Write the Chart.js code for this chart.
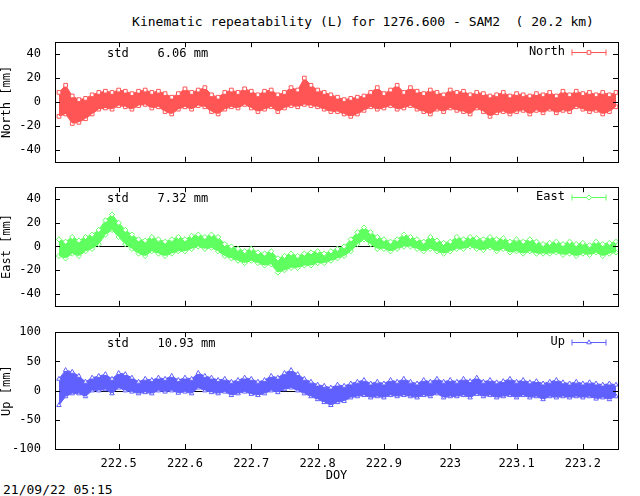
<!DOCTYPE html>
<html><head><meta charset="utf-8">
<script src="https://cdn.jsdelivr.net/npm/chart.js@4"></script>
<style>
body{margin:0;background:#fff;width:640px;height:496px;position:relative;overflow:hidden;font-family:"DejaVu Sans Mono",monospace;font-size:13px}
canvas{position:absolute;left:0}
.t{position:absolute;white-space:pre;color:#000}
</style></head><body>
<div class="t" style="left:0;width:726px;text-align:center;top:14px">Kinematic repeatability (L) for 1276.600 - SAM2  ( 20.2 km)</div>
<div class="t" style="left:3px;top:482px">21/09/22 05:15</div>
<div style="position:absolute;top:29px;left:0"><canvas id="c1"></canvas></div>
<div style="position:absolute;top:174px;left:0"><canvas id="c2"></canvas></div>
<div style="position:absolute;top:319px;left:0"><canvas id="c3"></canvas></div>
<script>
const doy=[222.41,222.42,222.43,222.44,222.45,222.46,222.47,222.48,222.49,222.50,222.51,222.52,222.53,222.54,222.55,222.56,222.57,222.58,222.59,222.60,222.61,222.62,222.63,222.64,222.65,222.66,222.67,222.68,222.69,222.70,222.71,222.72,222.73,222.74,222.75,222.76,222.77,222.78,222.79,222.80,222.81,222.82,222.83,222.84,222.85,222.86,222.87,222.88,222.89,222.90,222.91,222.92,222.93,222.94,222.95,222.96,222.97,222.98,222.99,223.00,223.01,223.02,223.03,223.04,223.05,223.06,223.07,223.08,223.09,223.10,223.11,223.12,223.13,223.14,223.15,223.16,223.17,223.18,223.19,223.20,223.21,223.22,223.23,223.24,223.25];
const northHi=[8,14,5,2,3,6,8,9,8,10,9,7,9,10,8,9,7,4,7,11,8,10,12,6,4,8,10,8,11,9,6,9,10,6,8,12,10,20,14,10,8,6,4,2,3,4,5,8,12,7,10,14,8,12,9,7,10,8,6,10,8,9,6,8,7,5,6,8,5,7,6,5,7,6,8,5,9,6,9,7,8,6,8,6,8];
const northLo=[-12,-10,-18,-17,-14,-10,-6,-5,-6,-3,-4,-6,-3,-2,-5,-4,-8,-10,-6,-4,-6,-3,-4,-8,-10,-6,-4,-5,-2,-5,-8,-6,-4,-8,-5,-3,-4,-2,-3,-4,-6,-8,-8,-10,-12,-10,-7,-4,-6,-5,-3,-6,-5,-3,-6,-8,-10,-6,-8,-5,-7,-8,-10,-5,-8,-12,-9,-8,-10,-8,-7,-10,-7,-9,-6,-9,-7,-8,-4,-6,-8,-7,-10,-8,-4];
const eastHi=[6,4,8,5,8,10,14,22,27,20,14,10,6,5,8,6,4,6,8,6,9,10,8,10,8,2,0,-2,-4,-2,-5,-6,-4,-10,-8,-6,-8,-6,-5,-4,-6,-4,-2,0,6,12,16,12,8,6,4,6,10,8,6,4,8,5,3,4,8,6,8,7,6,8,6,7,4,6,4,6,4,2,3,4,2,4,2,3,1,4,2,3,4];
const eastLo=[-8,-10,-6,-8,-4,-2,2,10,14,8,2,-2,-6,-8,-4,-6,-8,-6,-4,-4,-2,0,-2,-1,-4,-8,-10,-12,-14,-12,-14,-16,-15,-22,-20,-18,-18,-16,-16,-14,-14,-12,-10,-8,-4,2,6,2,-2,-2,-4,-2,0,0,-2,-4,-2,-4,-6,-4,-2,-2,0,-2,-3,-1,-4,-2,-5,-4,-6,-4,-6,-6,-6,-5,-7,-6,-8,-6,-7,-5,-8,-6,-5];
const upHi=[20,35,32,25,15,22,25,28,20,30,28,22,15,20,18,22,20,25,18,22,20,30,25,22,18,20,15,18,22,20,15,18,25,22,30,35,28,20,15,10,8,5,10,8,12,15,18,12,15,12,18,15,20,15,12,18,15,20,15,18,15,20,16,22,15,18,14,16,20,15,18,14,16,12,15,18,14,12,15,12,14,12,10,12,10];
const upLo=[-25,-10,-5,-5,-10,0,0,2,-5,5,0,-2,-5,-3,-5,0,-2,0,-4,-2,-5,5,0,-3,-5,-2,-8,-5,-2,-6,-8,-5,0,-3,2,5,0,-5,-10,-15,-20,-25,-20,-18,-12,-10,-8,-12,-10,-12,-8,-10,-8,-10,-12,-8,-10,-5,-12,-10,-10,-8,-12,-6,-10,-8,-12,-10,-8,-12,-8,-12,-10,-15,-10,-12,-10,-12,-10,-12,-10,-14,-12,-15,-10];
const xTicks=[222.5,222.6,222.7,222.8,222.9,223.0,223.1,223.2];
const panels=[
 {id:'c1',name:'North',label:'North [mm]',std:'std    6.06 mm',hi:northHi,lo:northLo,min:-50,max:50,step:20,col:'rgb(255,85,85)',ps:'rect',h:146,xaxis:false},
 {id:'c2',name:'East',label:'East [mm]',std:'std    7.32 mm',hi:eastHi,lo:eastLo,min:-50,max:50,step:20,col:'rgb(96,255,96)',ps:'rectRot',h:145,xaxis:false},
 {id:'c3',name:'Up',label:'Up [mm]',std:'std    10.93 mm',hi:upHi,lo:upLo,min:-100,max:100,step:50,col:'rgb(96,96,255)',ps:'triangle',h:164,xaxis:true}
];
const F='"DejaVu Sans Mono", monospace';
Chart.defaults.font.family=F;Chart.defaults.font.size=12;Chart.defaults.color='#000';
panels.forEach(p=>{
 const cv=document.getElementById(p.id);
 cv.width=640;cv.height=p.h;cv.style.width='640px';cv.style.height=p.h+'px';
 const mk=(arr,fill)=>({data:doy.map((x,i)=>({x,y:arr[i]})),borderColor:p.col,backgroundColor:p.col,fill:fill,borderWidth:1,
   pointStyle:p.ps,pointRadius:2.6,pointBorderColor:p.col,pointBackgroundColor:'#fff',pointBorderWidth:1,tension:0});
 new Chart(cv,{type:'line',data:{datasets:[mk(p.hi,'+1'),mk(p.lo,false)]},
  options:{responsive:false,animation:false,devicePixelRatio:1,
   layout:{padding:{top:10,bottom:p.xaxis?0:10,right:22,left:0}},
   plugins:{legend:{display:false},tooltip:{enabled:false}},
   scales:{
    x:{type:'linear',min:222.404,max:223.253,display:p.xaxis,grid:{display:false},border:{display:false},
       afterBuildTicks:s=>{s.ticks=xTicks.map(v=>({value:v}));},
       afterFit:s=>{if(p.xaxis)s.height=34;},
       ticks:{autoSkip:false,maxRotation:0,padding:0,callback:v=>String(Math.round(v*10)/10)},
       title:{display:p.xaxis,text:'DOY',padding:{top:6,bottom:0}}},
    y:{min:p.min,max:p.max,grid:{display:false},border:{display:false},
       afterBuildTicks:s=>{const t=[];for(let v=p.min+(p.step===20?10:0);v<=p.max;v+=p.step)t.push({value:v});s.ticks=t;},
       afterFit:s=>{s.width=55;},
       ticks:{padding:6},
       title:{display:true,text:p.label,padding:{top:0,bottom:2}}}
   }},
  plugins:[{id:'deco',
   beforeDatasetsDraw(c){const a=c.chartArea,ctx=c.ctx,y=c.scales.y;
     ctx.save();ctx.strokeStyle='#000';ctx.lineWidth=1;
     const y0=Math.round(y.getPixelForValue(0))+0.5;ctx.beginPath();ctx.moveTo(a.left,y0);ctx.lineTo(a.right,y0);ctx.stroke();
     ctx.restore();},
   afterDatasetsDraw(c){const a=c.chartArea,ctx=c.ctx,y=c.scales.y,x=c.scales.x;
     ctx.save();ctx.strokeStyle='#000';ctx.lineWidth=1;
     ctx.strokeRect(Math.round(a.left)+0.5,Math.round(a.top)+0.5,Math.round(a.right-a.left),Math.round(a.bottom-a.top));
     ctx.beginPath();
     y.ticks.forEach(t=>{const py=Math.round(y.getPixelForValue(t.value))+0.5;ctx.moveTo(a.left,py);ctx.lineTo(a.left+5,py);ctx.moveTo(a.right,py);ctx.lineTo(a.right-5,py);});
     xTicks.forEach(v=>{const px=Math.round(x.getPixelForValue(v))+0.5;ctx.moveTo(px,a.bottom);ctx.lineTo(px,a.bottom-5);ctx.moveTo(px,a.top);ctx.lineTo(px,a.top+5);});
     ctx.stroke();
     ctx.fillStyle='#000';ctx.font='12px '+F;ctx.textBaseline='middle';
     ctx.textAlign='left';ctx.fillText(p.std,a.left+52,a.top+12);
     ctx.textAlign='right';ctx.fillText(p.name,a.right-53,a.top+10);
     const ly=Math.round(a.top+10)+0.5,l1=a.right-46,l2=a.right-12;
     ctx.strokeStyle=p.col;ctx.beginPath();ctx.moveTo(l1,ly);ctx.lineTo(l2,ly);ctx.moveTo(l1,ly-3);ctx.lineTo(l1,ly+3);ctx.moveTo(l2,ly-3);ctx.lineTo(l2,ly+3);ctx.stroke();
     ctx.fillStyle='#fff';ctx.lineWidth=1;
     Chart.helpers.drawPoint(ctx,{pointStyle:p.ps,radius:2.6,borderWidth:1},(l1+l2)/2,ly);
     ctx.restore();
   }}]
 });
});
</script></body></html>
